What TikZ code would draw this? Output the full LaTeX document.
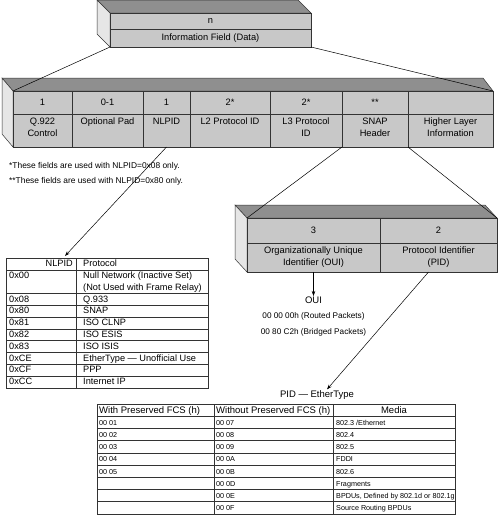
\documentclass[tikz,border=0pt]{standalone}
\usepackage{fontspec}
\setmainfont{Liberation Sans}
\usepackage{xcolor}
\definecolor{cFront}{HTML}{C8C8C8}
\definecolor{cTop}{HTML}{8F8F8F}
\definecolor{cSide}{HTML}{E6E6E6}
\definecolor{cLine}{HTML}{333333}
\usepackage{tikz}
\usetikzlibrary{positioning,arrows.meta,calc}
\tikzset{
  face-top/.style={fill=cTop,draw=cLine,line width=0.5pt},
  face-side/.style={fill=cSide,draw=cLine,line width=0.5pt},
  cell/.style={draw=cLine,fill=cFront,line width=0.7pt,inner sep=0pt,outer sep=0pt,
    anchor=north west,align=center,font=\fontsize{9.3}{11}\selectfont},
  cell-text/.style={align=center,inner sep=0pt,anchor=north,font=\fontsize{9.3}{11.5}\selectfont},
  tab-box/.style={draw=cLine,line width=0.6pt,inner sep=0pt,outer sep=0pt,anchor=north west},
  grid-line/.style={draw=cLine,line width=0.6pt},
  tab-text/.style={inner sep=0pt,anchor=base west,font=\fontsize{9.2}{11}\selectfont},
  pid-text/.style={inner sep=0pt,anchor=base west,font=\fontsize{7.2}{9}\selectfont},
  pid-head/.style={inner sep=0pt,anchor=base west,font=\fontsize{9.5}{11}\selectfont},
  note/.style={inner sep=0pt,anchor=base west,font=\fontsize{8.4}{10}\selectfont},
  oui-text/.style={inner sep=0pt,font=\fontsize{8.2}{10}\selectfont},
  title-text/.style={inner sep=1pt,font=\fontsize{9.5}{11}\selectfont},
  link/.style={draw=black,line width=0.5pt},
  arrow/.style={-{Stealth[length=5pt,width=3.5pt]},draw=black,line width=0.5pt},
}
\begin{document}
\begin{tikzpicture}[x=1pt,y=-1pt]
  \useasboundingbox (0,0) rectangle (500,515);

  % information field
  \filldraw[face-top] (97,0) -- (298,0) -- (311,13) -- (110,13) -- cycle;
  \filldraw[face-side] (97,0) -- (110,13) -- (110,47) -- (97,34) -- cycle;
  \node[cell,minimum width=201,minimum height=16.5] (info-size) at (110,13) {n};
  \node[cell,minimum width=201,minimum height=17.5] (info) at (110,29.5) {Information Field (Data)};

  % frame relay header
  \filldraw[face-top] (2,78) -- (483,78) -- (493,91) -- (13,91) -- cycle;
  \filldraw[face-side] (2,78) -- (13,91) -- (13,147) -- (2,134) -- cycle;
  \node[cell,minimum width=59,minimum height=23] (q922-size) at (13,91) {1};
  \node[cell,minimum width=71,minimum height=23] (pad-size) at (72,91) {0-1};
  \node[cell,minimum width=47,minimum height=23] (nlpid-size) at (143,91) {1};
  \node[cell,minimum width=80,minimum height=23] (ltwo-size) at (190,91) {2*};
  \node[cell,minimum width=72,minimum height=23] (lthree-size) at (270,91) {2*};
  \node[cell,minimum width=66,minimum height=23] (snap-size) at (342,91) {**};
  \node[cell,minimum width=85,minimum height=23] (higher-size) at (408,91) {};
  \node[cell,minimum width=59,minimum height=33] (q922) at (13,114) {};
  \node[cell,minimum width=71,minimum height=33] (pad) at (72,114) {};
  \node[cell,minimum width=47,minimum height=33] (nlpid) at (143,114) {};
  \node[cell,minimum width=80,minimum height=33] (ltwo) at (190,114) {};
  \node[cell,minimum width=72,minimum height=33] (lthree) at (270,114) {};
  \node[cell,minimum width=66,minimum height=33] (snap) at (342,114) {};
  \node[cell,minimum width=85,minimum height=33] (higher) at (408,114) {};
  \node[cell-text] at ([yshift=-4pt]q922.north) {Q.922\\Control};
  \node[cell-text] at ([yshift=-4pt]pad.north) {Optional Pad};
  \node[cell-text] at ([yshift=-4pt]nlpid.north) {NLPID};
  \node[cell-text] at ([yshift=-4pt]ltwo.north) {L2 Protocol ID};
  \node[cell-text] at ([yshift=-4pt]lthree.north) {L3 Protocol\\ID};
  \node[cell-text] at ([yshift=-4pt]snap.north) {SNAP\\Header};
  \node[cell-text] at ([yshift=-4pt]higher.north) {Higher Layer\\Information};

  \draw[link] (info.south west) -- (q922-size.north west);
  \draw[link] (info.south east) -- (higher-size.north east);

  % footnotes
  \node[note] (note-one) at (9,168) {*These fields are used with NLPID=0x08 only.};
  \node[note] (note-two) at (9,183) {**These fields are used with NLPID=0x80 only.};

  % SNAP header
  \filldraw[face-top] (235,205) -- (485,205) -- (497,218) -- (247,218) -- cycle;
  \filldraw[face-side] (235,205) -- (247,218) -- (247,272) -- (235,259) -- cycle;
  \node[cell,minimum width=133,minimum height=25] (oui-size) at (247,218) {3};
  \node[cell,minimum width=117,minimum height=25] (pid-size) at (380,218) {2};
  \node[cell,minimum width=133,minimum height=29] (oui) at (247,243) {};
  \node[cell,minimum width=117,minimum height=29] (pid) at (380,243) {};
  \node[cell-text] at ([yshift=-4pt]oui.north) {Organizationally Unique\\Identifier (OUI)};
  \node[cell-text] at ([yshift=-4pt]pid.north) {Protocol Identifier\\(PID)};

  \draw[link] (snap.south west) -- (oui-size.north west);
  \draw[link] (snap.south east) -- (pid-size.north east);

  % OUI values
  \node[title-text,below=24pt of oui.south] (oui-title) {OUI};
  \node[oui-text] (oui-routed) at (313.5,316) {00 00 00h (Routed Packets)};
  \node[oui-text] (oui-bridged) at (313.5,332) {00 80 C2h (Bridged Packets)};
  \draw[arrow] (oui.south) -- (oui-title.north);

  % NLPID table
  \coordinate (nlpid-in) at (65,256);
  \draw[arrow] (nlpid.south) -- (nlpid-in);
  \node[tab-box,minimum width=202,minimum height=129.8] (nlpid-tab) at (6,258) {};
  \draw[grid-line] (76,258) -- (76,387.8);
  \draw[grid-line] (6,269.8) -- (208,269.8);
  \foreach \i in {0,...,7}
    \draw[grid-line] (6,{293.4+\i*11.8}) -- (208,{293.4+\i*11.8});
  \node[tab-text,anchor=base east] at (73,266.6) {NLPID};
  \node[tab-text] at (83,266.6) {Protocol};
  \node[tab-text] at (9,278.4) {0x00};
  \node[tab-text] at (83,278.4) {Null Network (Inactive Set)};
  \node[tab-text] at (83,290.2) {(Not Used with Frame Relay)};
  \foreach \code/\proto [count=\i] in {0x08/Q.933, 0x80/SNAP, 0x81/ISO CLNP,
      0x82/ISO ESIS, 0x83/ISO ISIS, 0xCE/EtherType — Unofficial Use, 0xCF/PPP,
      0xCC/Internet IP} {
    \node[tab-text] at (9,{290.2+\i*11.8}) {\code};
    \node[tab-text] at (83,{290.2+\i*11.8}) {\proto};
  }

  % PID table
  \node[title-text] (pid-title) at (317,395) {PID — EtherType};
  \draw[arrow] ([xshift=-10pt]pid.south) -- ([xshift=10pt]pid-title.north);
  \node[tab-box,minimum width=358,minimum height=109.8] (pid-tab) at (97,404) {};
  \draw[grid-line] (214,404) -- (214,513.8);
  \draw[grid-line] (333,404) -- (333,513.8);
  \foreach \i in {1,...,8}
    \draw[grid-line] (97,{404+\i*12.2}) -- (455,{404+\i*12.2});
  \node[pid-head] at (99,413) {With Preserved FCS (h)};
  \node[pid-head] at (216,413) {Without Preserved FCS (h)};
  \node[pid-head,anchor=base] at (394,413) {Media};
  \foreach \pres/\nopres/\media [count=\i] in {00 01/00 07/{802.3 /Ethernet},
      00 02/00 08/802.4, 00 03/00 09/802.5, 00 04/00 0A/FDDI, 00 05/00 0B/802.6,
      {}/00 0D/Fragments, {}/00 0E/{BPDUs, Defined by 802.1d or 802.1g},
      {}/00 0F/Source Routing BPDUs} {
    \node[pid-text] at (99,{413+\i*12.2}) {\pres};
    \node[pid-text] at (216,{413+\i*12.2}) {\nopres};
    \node[pid-text] at (336,{413+\i*12.2}) {\media};
  }
\end{tikzpicture}
\end{document}
